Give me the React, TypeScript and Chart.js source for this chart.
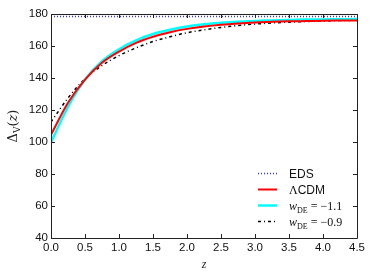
import React, { useEffect, useRef } from "react";
import { Chart, registerables } from "chart.js";
Chart.register(...registerables);

const zValues = [0, 0.25, 0.5, 0.75, 1.0, 1.25, 1.5, 1.75, 2.0, 2.25, 2.5, 2.75, 3.0, 3.25, 3.5, 3.75, 4.0, 4.25, 4.5];
const lcdmValues = [104.5, 124.5, 139, 149.5, 156.5, 162, 165.8, 168.6, 170.7, 172.2, 173.3, 174.1, 174.7, 175.1, 175.4, 175.6, 175.8, 175.9, 176.0];
const wMinus11Values = [99.7, 122, 139, 150.5, 158, 163.5, 167.5, 170.2, 172.2, 173.6, 174.5, 175.2, 175.7, 176.0, 176.3, 176.5, 176.6, 176.7, 176.8];
const wMinus09Values = [112.5, 127.5, 139.5, 147.8, 154, 158.8, 162.8, 165.8, 168.3, 170.1, 171.6, 172.8, 173.7, 174.4, 174.9, 175.3, 175.6, 175.9, 176.1];
const edsZ = [0, 4.5];
const edsValues = [178.4, 178.4];
const xTicks = [0, 0.5, 1, 1.5, 2, 2.5, 3, 3.5, 4, 4.5];
const yTicks = [40, 60, 80, 100, 120, 140, 160, 180];

const toXY = (xs: number[], ys: number[]) => xs.map((x, i) => ({ x, y: ys[i] }));

const framePlugin = {
  id: "frame",
  afterDraw(chart: any) {
    const { ctx, chartArea } = chart;
    const { left, right, top, bottom } = chartArea;
    const xs = chart.scales.x;
    const ys = chart.scales.y;
    ctx.save();
    ctx.strokeStyle = "#222";
    ctx.lineWidth = 1;
    ctx.beginPath();
    ctx.rect(Math.round(left) + 0.5, Math.round(top) + 0.5, Math.round(right - left), Math.round(bottom - top));
    ctx.stroke();
    ctx.beginPath();
    for (const v of xTicks) {
      const px = Math.round(xs.getPixelForValue(v)) + 0.5;
      ctx.moveTo(px, bottom);
      ctx.lineTo(px, bottom - 4);
      ctx.moveTo(px, top);
      ctx.lineTo(px, top + 4);
    }
    for (const v of yTicks) {
      const py = Math.round(ys.getPixelForValue(v)) + 0.5;
      ctx.moveTo(left, py);
      ctx.lineTo(left + 4, py);
      ctx.moveTo(right, py);
      ctx.lineTo(right - 4, py);
    }
    ctx.stroke();

    // axis titles
    ctx.fillStyle = "#222";
    ctx.textBaseline = "alphabetic";
    ctx.font = "italic 12px 'Liberation Serif'";
    ctx.textAlign = "center";
    ctx.fillText("z", (left + right) / 2, 268);
    ctx.save();
    ctx.translate(17, (top + bottom) / 2);
    ctx.rotate(-Math.PI / 2);
    ctx.textAlign = "left";
    const parts: [string, string, number][] = [
      ["Δ", "13px 'DejaVu Serif'", 0],
      ["V", "9px 'DejaVu Serif'", 3],
      ["(", "13px 'DejaVu Serif'", 0],
      ["z", "italic 13px 'DejaVu Serif'", 0],
      [")", "13px 'DejaVu Serif'", 0],
    ];
    let total = 0;
    for (const [t, f] of parts) { ctx.font = f; total += ctx.measureText(t).width; }
    let cx = -total / 2;
    for (const [t, f, dy] of parts) {
      ctx.font = f;
      ctx.fillText(t, cx, dy);
      cx += ctx.measureText(t).width;
    }
    ctx.restore();

    // legend
    const rows = [
      { y: 173, color: "#3333ff", width: 1.5, dash: [1, 2], parts: [["EDS", "12px 'Liberation Sans'", 0]] },
      { y: 189, color: "#ff0000", width: 2, dash: [], parts: [["Λ", "12px 'Liberation Serif'", 0], ["CDM", "12px 'Liberation Sans'", 0]] },
      { y: 205, color: "#00ffff", width: 2.5, dash: [], parts: [["w", "italic 12px 'Liberation Serif'", 0], ["DE", "8px 'Liberation Serif'", 3], [" = −1.1", "12px 'Liberation Serif'", 0]] },
      { y: 221, color: "#000000", width: 1.5, dash: [3, 3, 1, 3], parts: [["w", "italic 12px 'Liberation Serif'", 0], ["DE", "8px 'Liberation Serif'", 3], [" = −0.9", "12px 'Liberation Serif'", 0]] },
    ];
    for (const r of rows) {
      ctx.beginPath();
      ctx.strokeStyle = r.color;
      ctx.lineWidth = r.width;
      ctx.setLineDash(r.dash);
      ctx.moveTo(258, r.y + 0.5);
      ctx.lineTo(277, r.y + 0.5);
      ctx.stroke();
      ctx.setLineDash([]);
      ctx.fillStyle = "#111";
      ctx.textAlign = "left";
      let tx = 289;
      for (const [t, f, dy] of r.parts as [string, string, number][]) {
        ctx.font = f;
        ctx.fillText(t, tx, r.y + 4.5 + dy);
        tx += ctx.measureText(t).width;
      }
    }
    ctx.restore();
  },
};

export default function App() {
  const ref = useRef<HTMLCanvasElement | null>(null);
  useEffect(() => {
    if (!ref.current) return;
    const chart = new Chart(ref.current, {
      type: "line",
      data: {
        datasets: [
          { label: "EDS", data: toXY(edsZ, edsValues), borderColor: "#3333ff", borderWidth: 1.5, borderDash: [1, 2], pointRadius: 0 },
          { label: "ΛCDM", data: toXY(zValues, lcdmValues), borderColor: "#ff0000", borderWidth: 2, pointRadius: 0, cubicInterpolationMode: "monotone" },
          { label: "w_DE = −1.1", data: toXY(zValues, wMinus11Values), borderColor: "#00ffff", borderWidth: 2.5, pointRadius: 0, cubicInterpolationMode: "monotone" },
          { label: "w_DE = −0.9", data: toXY(zValues, wMinus09Values), borderColor: "#000000", borderWidth: 1.5, borderDash: [3, 3, 1, 3], pointRadius: 0, cubicInterpolationMode: "monotone" },
        ],
      },
      options: {
        animation: false,
        responsive: true,
        maintainAspectRatio: false,
        layout: { padding: { top: 14, right: 17, left: 0, bottom: 0 } },
        plugins: { legend: { display: false }, tooltip: { enabled: false } },
        scales: {
          x: {
            type: "linear",
            min: 0,
            max: 4.5,
            afterFit: (s: any) => { s.height = 42; },
            afterBuildTicks: (s: any) => { s.ticks = xTicks.map((v) => ({ value: v })); },
            grid: { display: false, drawTicks: false },
            border: { display: false },
            ticks: { padding: 3, color: "#111", font: { family: "'Liberation Sans'", size: 11.5 }, callback: (v: any) => Number(v).toFixed(1), maxRotation: 0, autoSkip: false },
          },
          y: {
            type: "linear",
            min: 40,
            max: 180,
            afterFit: (s: any) => { s.width = 51; },
            afterBuildTicks: (s: any) => { s.ticks = yTicks.map((v) => ({ value: v })); },
            grid: { display: false, drawTicks: false },
            border: { display: false },
            ticks: { padding: 3, color: "#111", font: { family: "'Liberation Sans'", size: 11.5 }, autoSkip: false },
          },
        },
      },
      plugins: [framePlugin],
    } as any);
    return () => chart.destroy();
  }, []);
  return (
    <div style={{ position: "fixed", left: 0, top: 0, width: 374, height: 280, background: "#fff" }}>
      <canvas ref={ref} />
    </div>
  );
}
